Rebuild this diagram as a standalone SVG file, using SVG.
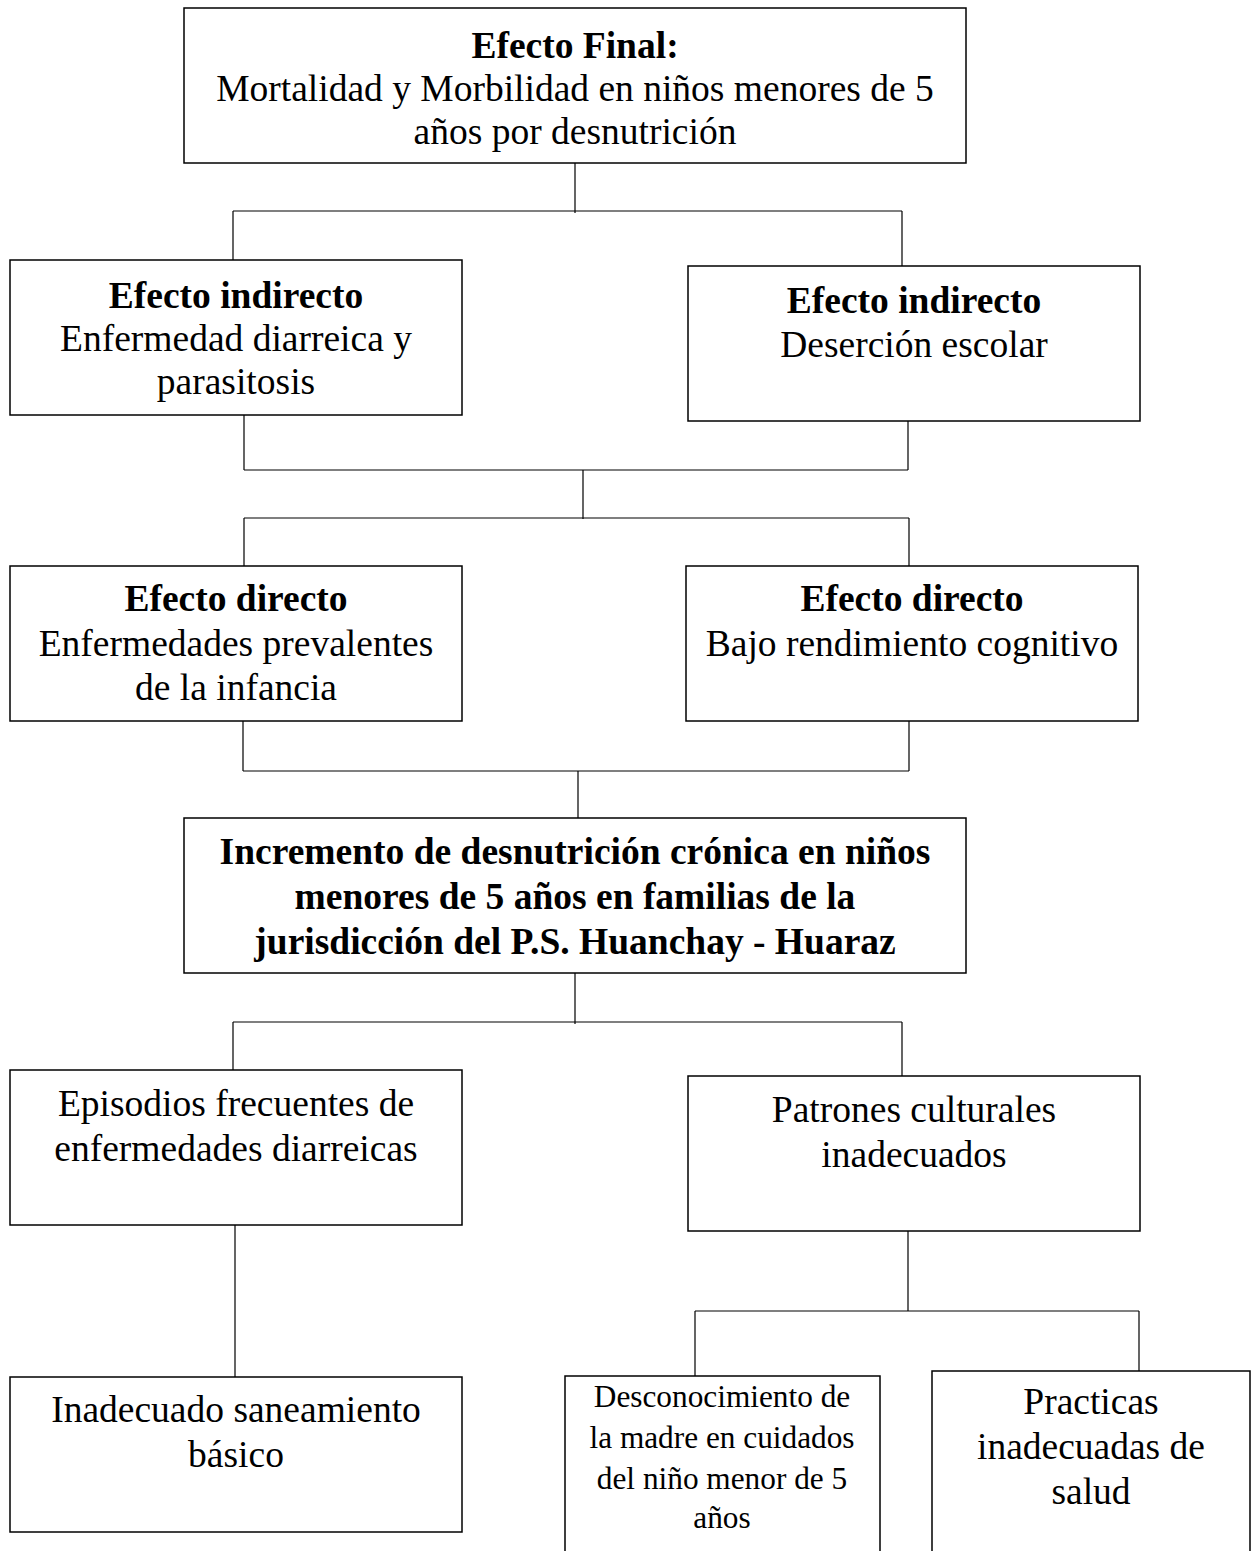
<svg xmlns="http://www.w3.org/2000/svg" width="1255" height="1551" viewBox="0 0 1255 1551">
<style>
.box{fill:#fff;stroke:#000;stroke-width:1.5}
.t{font-family:"Liberation Serif","Times New Roman",serif;font-size:37.5px;fill:#000;text-anchor:middle}
.b{font-weight:bold}
.s{font-size:31.3px}
.c{stroke:#000;stroke-width:1.2;fill:none}
</style>
<rect width="1255" height="1551" fill="#fff"/>
<g id="connectors">
<path class="c" d="M575 163V213M233 211H902M233 211V260M902 211V266"/>
<path class="c" d="M244 415V470M908 421V470M244 470H908M583 470V519M244 518H909M244 518V566M909 518V566"/>
<path class="c" d="M243 721V771M909 721V771M243 771H909M578 771V818"/>
<path class="c" d="M575 973V1024M233 1022H902M233 1022V1070M902 1022V1076"/>
<path class="c" d="M235 1225V1379M908 1231V1311M695 1311H1139M695 1311V1376M1139 1311V1371"/>
</g>
<g id="final">
<rect class="box" x="184" y="8" width="782" height="155"/>
<text class="t b" x="575" y="58">Efecto Final:</text>
<text class="t" x="575" y="101">Mortalidad y Morbilidad en niños menores de 5</text>
<text class="t" x="575" y="144">años por desnutrición</text>
</g>
<g id="indirecto1">
<rect class="box" x="10" y="260" width="452" height="155"/>
<text class="t b" x="236" y="308">Efecto indirecto</text>
<text class="t" x="236" y="351">Enfermedad diarreica y</text>
<text class="t" x="236" y="394">parasitosis</text>
</g>
<g id="indirecto2">
<rect class="box" x="688" y="266" width="452" height="155"/>
<text class="t b" x="914" y="313">Efecto indirecto</text>
<text class="t" x="914" y="357">Deserción escolar</text>
</g>
<g id="directo1">
<rect class="box" x="10" y="566" width="452" height="155"/>
<text class="t b" x="236" y="611">Efecto directo</text>
<text class="t" x="236" y="656">Enfermedades prevalentes</text>
<text class="t" x="236" y="700">de la infancia</text>
</g>
<g id="directo2">
<rect class="box" x="686" y="566" width="452" height="155"/>
<text class="t b" x="912" y="611">Efecto directo</text>
<text class="t" x="912" y="656">Bajo rendimiento cognitivo</text>
</g>
<g id="problema">
<rect class="box" x="184" y="818" width="782" height="155"/>
<text class="t b" x="575" y="864">Incremento de desnutrición crónica en niños</text>
<text class="t b" x="575" y="909">menores de 5 años en familias de la</text>
<text class="t b" x="575" y="954">jurisdicción del P.S. Huanchay - Huaraz</text>
</g>
<g id="episodios">
<rect class="box" x="10" y="1070" width="452" height="155"/>
<text class="t" x="236" y="1116">Episodios frecuentes de</text>
<text class="t" x="236" y="1161">enfermedades diarreicas</text>
</g>
<g id="patrones">
<rect class="box" x="688" y="1076" width="452" height="155"/>
<text class="t" x="914" y="1122">Patrones culturales</text>
<text class="t" x="914" y="1167">inadecuados</text>
</g>
<g id="saneamiento">
<rect class="box" x="10" y="1377" width="452" height="155"/>
<text class="t" x="236" y="1422">Inadecuado saneamiento</text>
<text class="t" x="236" y="1467">básico</text>
</g>
<g id="desconocimiento">
<rect class="box" x="565" y="1376" width="315" height="190"/>
<text class="t s" x="722" y="1407">Desconocimiento de</text>
<text class="t s" x="722" y="1448">la madre en cuidados</text>
<text class="t s" x="722" y="1489">del niño menor de 5</text>
<text class="t s" x="722" y="1528">años</text>
</g>
<g id="practicas">
<rect class="box" x="932" y="1371" width="318" height="195"/>
<text class="t" x="1091" y="1414">Practicas</text>
<text class="t" x="1091" y="1459">inadecuadas de</text>
<text class="t" x="1091" y="1504">salud</text>
</g>
</svg>
